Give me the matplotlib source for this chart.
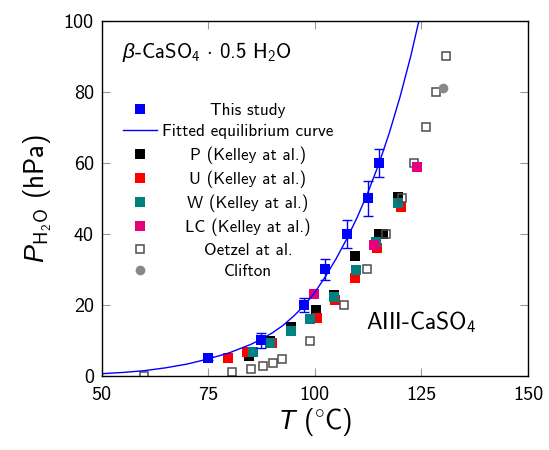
import matplotlib
matplotlib.use('Agg')
import matplotlib.pyplot as plt

plt.rcParams['font.family'] = ['cmss10', 'DejaVu Sans']
plt.rcParams['mathtext.fontset'] = 'custom'
plt.rcParams['mathtext.rm'] = 'cmss10'
plt.rcParams['mathtext.it'] = 'Liberation Sans:italic'
plt.rcParams['axes.unicode_minus'] = False

# this study, with error bars
study_T = [75, 87.5, 97.5, 102.5, 107.5, 112.5, 115]
study_P = [5, 10, 20, 30, 40, 50, 60]
study_err = [0.5, 2, 2, 3, 4, 5, 4]

# fitted equilibrium curve
fit_T = [50, 55, 60, 65, 70, 75, 80, 85, 87.5, 90, 92.5, 95, 97.5, 100,
         102.5, 105, 107.5, 110, 112.5, 115, 117.5, 120, 122.5, 125]
fit_P = [0.65, 1.0, 1.5, 2.3, 3.35, 4.8, 6.55, 8.9, 10.4, 12.1, 14.2, 16.8,
         19.8, 23.5, 28.0, 33.0, 38.6, 44.8, 51.8, 59.6, 68.5, 78.6, 90.0, 103]

# Kelley at al. series
kp_T = [84.5, 89.5, 94.5, 100.3, 104.4, 109.4, 115.1, 116.1, 119.6]
kp_P = [5.6, 9.9, 13.8, 18.6, 22.8, 33.8, 40.0, 40.0, 50.5]
ku_T = [79.7, 84.1, 90.0, 100.5, 104.7, 109.4, 114.5, 120.2]
ku_P = [5.0, 6.8, 9.2, 16.3, 21.4, 27.7, 35.9, 47.5]
kw_T = [85.6, 89.4, 94.5, 98.8, 104.6, 109.7, 114.4, 119.6]
kw_P = [6.9, 9.3, 12.7, 16.0, 22.1, 29.8, 37.8, 48.6]
klc_T = [99.9, 113.9, 123.9]
klc_P = [23.1, 36.9, 58.7]

# Oetzel at al.
oe_T = [60.0, 80.7, 85.0, 87.9, 90.2, 92.2, 98.8, 106.9, 112.3, 116.6,
        120.4, 123.2, 126.0, 128.4, 130.7]
oe_P = [0.0, 1.0, 2.0, 2.9, 3.8, 4.8, 9.9, 20.0, 30.0, 40.0,
        50.2, 60.0, 70.0, 80.0, 90.1]

# Clifton
cl_T = [130.0]
cl_P = [81.0]

fig = plt.figure(figsize=(5.49, 4.5), dpi=100)
ax = fig.add_axes([0.1849, 0.1644, 0.7769, 0.7896])

ms = 7.0
ax.plot(kp_T, kp_P, 's', color='black', ms=ms, mew=0, label='P (Kelley at al.)')
ax.plot(ku_T, ku_P, 's', color='#ff0000', ms=ms, mew=0, label='U (Kelley at al.)')
ax.plot(kw_T, kw_P, 's', color='#008080', ms=ms, mew=0, label='W (Kelley at al.)')
ax.plot(oe_T, oe_P, 's', mfc='none', mec='#4d4d4d', ms=ms - 0.9, mew=1.1,
        label='Oetzel at al.')
ax.plot(klc_T, klc_P, 's', color='#e6007e', ms=ms, mew=0, label='LC (Kelley at al.)')
ax.plot(cl_T, cl_P, 'o', color='#888888', ms=ms, mew=0, label='Clifton')

ax.plot(fit_T, fit_P, '-', color='#0000ff', lw=1.0, label='Fitted equilibrium curve')
ax.errorbar(study_T, study_P, yerr=study_err, fmt='none', ecolor='#0000ff',
            elinewidth=1.0, capsize=3.5, capthick=1.0)
ax.plot(study_T, study_P, 's', color='#0000ff', ms=ms, mew=0, label='This study')

ax.set_xlim(50, 150)
ax.set_ylim(0, 100)
ax.set_xticks([50, 75, 100, 125, 150])
ax.set_yticks([0, 20, 40, 60, 80, 100])
ax.tick_params(direction='in', length=6, width=0.8, color='#999999',
               top=True, right=True, labelsize=14.5)
ax.tick_params(axis='x', pad=7.5)
ax.tick_params(axis='y', pad=5.5)
for s in ax.spines.values():
    s.set_linewidth(1.0)

ax.set_xlabel(r'$T$ ($^{\circ}$C)', fontsize=19.5, labelpad=1)
ax.set_ylabel(r'$P_{\mathrm{H_2O}}$ (hPa)', fontsize=19.5, labelpad=7)

ax.text(54.8, 91.2, r'$\beta$-CaSO$_4$ $\cdot$ 0.5 H$_2$O', fontsize=15,
        ha='left', va='center')
ax.text(112.0, 15.2, r'AIII-CaSO$_4$', fontsize=17, ha='left', va='center')

# legend in the same order as the reference
h, l = ax.get_legend_handles_labels()
order = ['This study', 'Fitted equilibrium curve', 'P (Kelley at al.)',
         'U (Kelley at al.)', 'W (Kelley at al.)', 'LC (Kelley at al.)',
         'Oetzel at al.', 'Clifton']
hh = [h[l.index(o)] for o in order]
leg = ax.legend(hh, order, loc='upper left', bbox_to_anchor=(0.0497, 0.769),
                frameon=False, fontsize=12.3, handlelength=1.98,
                handletextpad=0.33, labelspacing=0.39, borderpad=0,
                borderaxespad=0, numpoints=1)

# centre the legend texts like the original
fig.canvas.draw()
widths = [t.get_window_extent().width for t in leg.get_texts()]
wmax = max(widths)
for t, w in zip(leg.get_texts(), widths):
    t.set_position(((wmax - w) / 2, 0))

fig.savefig('out.png', dpi=100)
